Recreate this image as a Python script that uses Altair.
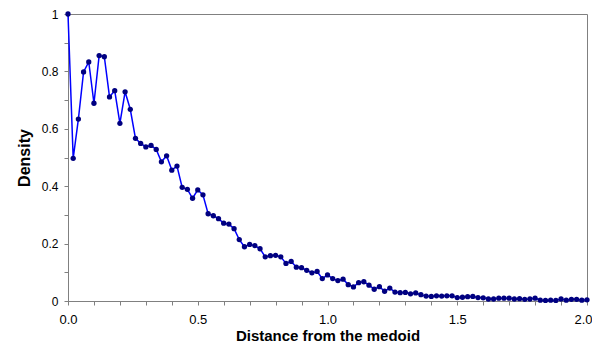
import altair as alt
import pandas as pd

distance = [0.00, 0.02, 0.04, 0.06, 0.08, 0.10, 0.12, 0.14, 0.16, 0.18,
            0.20, 0.22, 0.24, 0.26, 0.28, 0.30, 0.32, 0.34, 0.36, 0.38,
            0.40, 0.42, 0.44, 0.46, 0.48, 0.50, 0.52, 0.54, 0.56, 0.58,
            0.60, 0.62, 0.64, 0.66, 0.68, 0.70, 0.72, 0.74, 0.76, 0.78,
            0.80, 0.82, 0.84, 0.86, 0.88, 0.90, 0.92, 0.94, 0.96, 0.98,
            1.00, 1.02, 1.04, 1.06, 1.08, 1.10, 1.12, 1.14, 1.16, 1.18,
            1.20, 1.22, 1.24, 1.26, 1.28, 1.30, 1.32, 1.34, 1.36, 1.38,
            1.40, 1.42, 1.44, 1.46, 1.48, 1.50, 1.52, 1.54, 1.56, 1.58,
            1.60, 1.62, 1.64, 1.66, 1.68, 1.70, 1.72, 1.74, 1.76, 1.78,
            1.80, 1.82, 1.84, 1.86, 1.88, 1.90, 1.92, 1.94, 1.96, 1.98,
            2.00]

density = [1.000, 0.497, 0.634, 0.798, 0.833, 0.689, 0.855, 0.851, 0.711, 0.733,
           0.619, 0.729, 0.668, 0.567, 0.549, 0.537, 0.542, 0.528, 0.485, 0.506,
           0.456, 0.470, 0.396, 0.389, 0.358, 0.387, 0.370, 0.304, 0.297, 0.287,
           0.271, 0.268, 0.252, 0.214, 0.189, 0.197, 0.193, 0.182, 0.154, 0.158,
           0.159, 0.154, 0.131, 0.138, 0.118, 0.116, 0.107, 0.098, 0.103, 0.078,
           0.091, 0.078, 0.071, 0.076, 0.057, 0.049, 0.064, 0.067, 0.055, 0.041,
           0.050, 0.034, 0.045, 0.031, 0.029, 0.030, 0.025, 0.028, 0.022, 0.017,
           0.016, 0.018, 0.017, 0.018, 0.018, 0.012, 0.013, 0.015, 0.016, 0.012,
           0.011, 0.007, 0.007, 0.010, 0.010, 0.010, 0.007, 0.008, 0.006, 0.007,
           0.010, 0.003, 0.002, 0.003, 0.002, 0.007, 0.003, 0.006, 0.006, 0.003,
           0.004]

x_ticks = [0.0, 0.1, 0.2, 0.3, 0.4, 0.5, 0.6, 0.7, 0.8, 0.9, 1.0,
           1.1, 1.2, 1.3, 1.4, 1.5, 1.6, 1.7, 1.8, 1.9, 2.0]
y_ticks = [0.0, 0.1, 0.2, 0.3, 0.4, 0.5, 0.6, 0.7, 0.8, 0.9, 1.0]

df = pd.DataFrame({"distance": distance, "density": density})

FONT = "Liberation Sans"

x_enc = alt.X(
    "distance:Q",
    scale=alt.Scale(domain=[0, 2], nice=False, zero=False),
    axis=alt.Axis(
        title="Distance from the medoid",
        values=x_ticks,
        labelExpr="abs(datum.value*2 - round(datum.value*2)) < 0.001 ? format(datum.value, '.1f') : ''",
        labelOffset={"condition": {"test": "datum.value > 1.95", "value": -4}, "value": 0},
        labelOverlap=False,
        labelFlush=False,
        grid=False,
        tickSize=4,
        labelPadding=8,
        labelFontSize=13,
        titleFontSize=15,
        titlePadding=2,
    ),
)
y_enc = alt.Y(
    "density:Q",
    scale=alt.Scale(domain=[0, 1], nice=False),
    axis=alt.Axis(
        title="Density",
        values=y_ticks,
        labelExpr="round(datum.value*10) % 2 == 0 ? format(datum.value, '~g') : ''",
        labelOverlap=False,
        grid=False,
        tickSize=4,
        labelPadding=6,
        labelFontSize=12,
        titleFontSize=16,
        titlePadding=9,
    ),
)

base = alt.Chart(df).encode(x=x_enc, y=y_enc)
line = base.mark_line(color="#0000FF", strokeWidth=1.5)
points = base.mark_point(filled=True, shape="circle", size=28, color="#000080", opacity=1)

chart = (
    alt.layer(line, points)
    .properties(
        width=519,
        height=287,
        autosize=alt.AutoSizeParams(type="none"),
        padding={"left": 60, "top": 6, "right": 5, "bottom": 42},
        background="white",
    )
    .configure_view(stroke="#808080", strokeWidth=1)
    .configure_axis(
        labelFont=FONT,
        titleFont=FONT,
        labelColor="#000000",
        titleColor="#000000",
        titleFontWeight="bold",
        domainColor="#808080",
        tickColor="#808080",
        domainWidth=1,
        labelOverlap=False,
    )
)

chart.save("out.html", embed_options={"renderer": "svg", "actions": False})
